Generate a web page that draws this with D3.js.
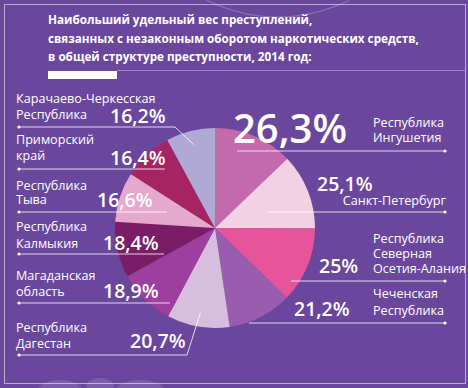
<!DOCTYPE html>
<html>
<head>
<meta charset="utf-8">
<script src="https://d3js.org/d3.v7.min.js"></script>
<style>
  html, body { margin: 0; padding: 0; background: #6a469d; overflow: hidden; }
  svg { display: block; }
  text { font-family: "Open Sans", sans-serif; fill: #fff; }
</style>
</head>
<body>
<script>
"use strict";

// Data, clockwise from 12 o'clock
const regions = [
  "Республика\nИнгушетия",
  "Санкт-Петербург",
  "Республика\nСеверная\nОсетия-Алания",
  "Чеченская\nРеспублика",
  "Республика\nДагестан",
  "Магаданская\nобласть",
  "Республика\nКалмыкия",
  "Республика\nТыва",
  "Приморский\nкрай",
  "Карачаево-Черкесская\nРеспублика"
];
const values = [26.3, 25.1, 25, 21.2, 20.7, 18.9, 18.4, 16.6, 16.4, 16.2];
const valueLabels = ["26,3%", "25,1%", "25%", "21,2%", "20,7%", "18,9%", "18,4%", "16,6%", "16,4%", "16,2%"];
const titleLines = [
  "Наибольший удельный вес преступлений,",
  "связанных с незаконным оборотом наркотических средств,",
  "в общей структуре преступности, 2014 год:"
];

// Styles
const sliceColors = ["#c36aac", "#f1d1e3", "#e6549b", "#9a5cae", "#d7bede",
                     "#9d3f9f", "#7b1d66", "#e6a8cd", "#a62464", "#b0a9d5"];
const LINE = "rgba(255,255,255,0.78)";

const WIDTH = 468, HEIGHT = 388;
const CX = 215, CY = 228, R = 100;

// hand placed label layout (index matches data)
const layout = [
  {nx: 373, ny: 127, step: 15,   anchor: "start", vx: 233, vy: 143, vs: 40, ly: 151, x0: 237, x1: 445, dot: "end"},
  {nx: 446, ny: 205, step: 15,   anchor: "end",   vx: 317, vy: 191, vs: 19.5, ly: 212, x0: 267, x1: 445, dot: "end"},
  {nx: 373, ny: 243, step: 15,   anchor: "start", vx: 319, vy: 273, vs: 19.5, ly: 281, x0: 291, x1: 445, dot: "end"},
  {nx: 373, ny: 298, step: 16.5, anchor: "start", vx: 294, vy: 316, vs: 19.5, ly: 323, x0: 249, x1: 445, dot: "end"},
  {nx: 16,  ny: 332, step: 15.5, anchor: "start", vx: 130, vy: 348, vs: 19.5, ly: 355, x0: 19,  x1: 187, dot: "start", leader: true},
  {nx: 16,  ny: 280, step: 16,   anchor: "start", vx: 103, vy: 298, vs: 19.5, ly: 303, x0: 19,  x1: 170, dot: "start"},
  {nx: 16,  ny: 231, step: 16.5, anchor: "start", vx: 103, vy: 250, vs: 19.5, ly: 254, x0: 19,  x1: 164, dot: "start"},
  {nx: 16,  ny: 190, step: 13.5, anchor: "start", vx: 97,  vy: 207, vs: 19.5, ly: 212, x0: 19,  x1: 167, dot: "start"},
  {nx: 16,  ny: 144, step: 16,   anchor: "start", vx: 110, vy: 165, vs: 19.5, ly: 169, x0: 19,  x1: 165, dot: "start"},
  {nx: 16,  ny: 103, step: 15.5, anchor: "start", vx: 110, vy: 123, vs: 19.5, ly: 127, x0: 19,  x1: 175, dot: "start", leader: true}
];

const svg = d3.select("body").append("svg")
  .attr("width", WIDTH)
  .attr("height", HEIGHT);

svg.append("rect").attr("width", WIDTH).attr("height", HEIGHT).attr("fill", "#6a469d");

// decorative bits
svg.append("circle").attr("cx", 278).attr("cy", -142).attr("r", 159)
  .attr("fill", "none").attr("stroke", "rgba(255,255,255,0.22)").attr("stroke-width", 1.2);
[[60, 390, 22, 10], [100, 386, 14, 8], [140, 390, 24, 10]].forEach(b => {
  svg.append("ellipse").attr("cx", b[0]).attr("cy", b[1]).attr("rx", b[2]).attr("ry", b[3])
    .attr("fill", "rgba(255,255,255,0.12)");
});

// frame
svg.append("rect").attr("x", 4.5).attr("y", 4.5).attr("width", 461).attr("height", 379)
  .attr("fill", "none").attr("stroke", "rgba(255,255,255,0.55)").attr("stroke-width", 1);

// title
svg.append("g").selectAll("text")
  .data(titleLines)
  .join("text")
  .attr("x", 48)
  .attr("y", (d, i) => 24 + i * 18.5)
  .attr("font-size", 11.7)
  .attr("font-weight", 700)
  .text(d => d);

svg.append("rect").attr("x", 48).attr("y", 71).attr("width", 69).attr("height", 8).attr("fill", "#fff");
svg.append("line").attr("x1", 117).attr("x2", 465).attr("y1", 70.5).attr("y2", 70.5)
  .attr("stroke", "rgba(255,255,255,0.35)");

// pie
const color = d3.scaleOrdinal().domain(d3.range(values.length)).range(sliceColors);
const pie = d3.pie().sort(null).value(d => d)(values);
const arc = d3.arc().innerRadius(0).outerRadius(R);
const leaderArc = d3.arc().innerRadius(86).outerRadius(86);

const gPie = svg.append("g").attr("transform", `translate(${CX},${CY})`);
gPie.selectAll("path")
  .data(pie)
  .join("path")
  .attr("d", arc)
  .attr("fill", (d, i) => color(i));

// labels
const gLab = svg.append("g");
pie.forEach((p, i) => {
  const L = layout[i];
  const lines = regions[i].split("\n");
  lines.forEach((t, j) => {
    gLab.append("text")
      .attr("x", L.nx)
      .attr("y", L.ny + j * L.step)
      .attr("text-anchor", L.anchor)
      .attr("font-size", 12.6)
      .text(t);
  });
  gLab.append("text")
    .attr("x", L.vx)
    .attr("y", L.vy)
    .attr("font-size", L.vs)
    .attr("font-weight", 600)
    .text(valueLabels[i]);

  let pts = [[L.x0, L.ly], [L.x1, L.ly]];
  if (L.leader) {
    const c = leaderArc.centroid(p);
    pts.push([CX + c[0], CY + c[1]]);
  }
  gLab.append("path")
    .attr("d", d3.line()(pts))
    .attr("fill", "none")
    .attr("stroke", LINE)
    .attr("stroke-width", 1);
  gLab.append("circle")
    .attr("cx", L.dot === "end" ? L.x1 : L.x0)
    .attr("cy", L.ly)
    .attr("r", 1.6)
    .attr("fill", "#fff");
});
</script>
</body>
</html>
